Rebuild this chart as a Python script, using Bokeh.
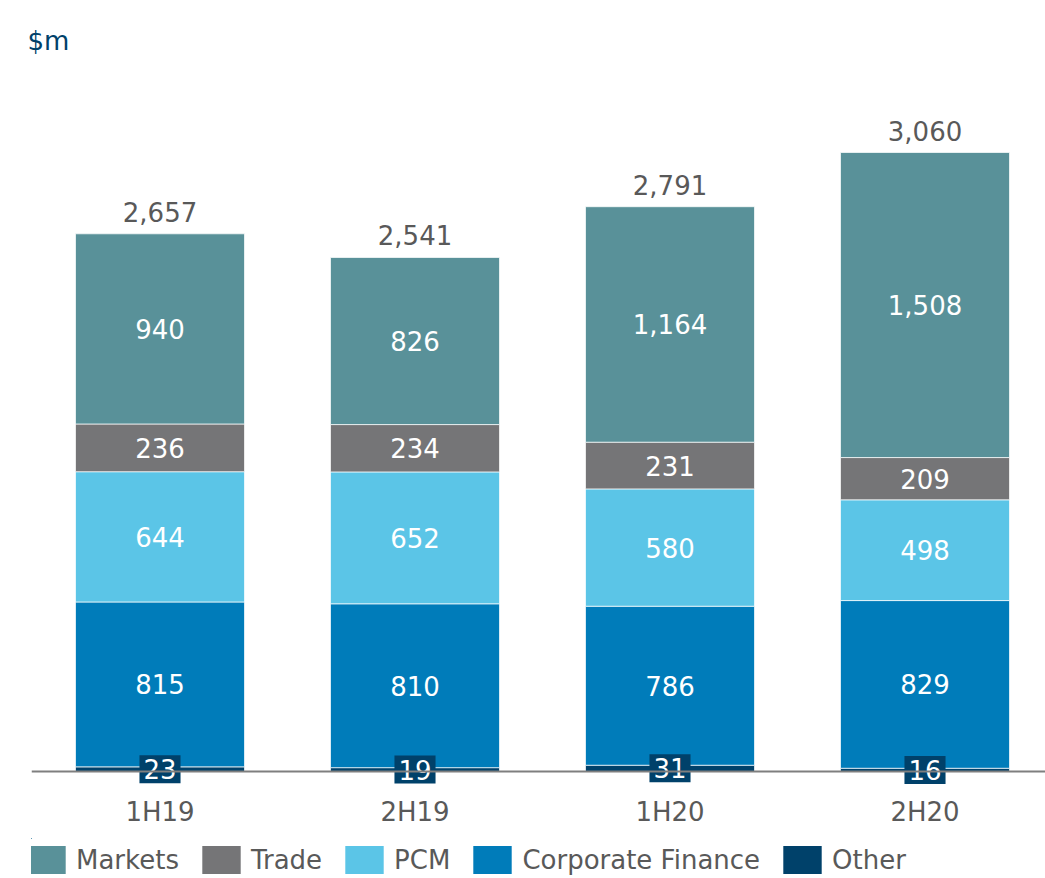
from bokeh.plotting import figure
from bokeh.models import ColumnDataSource, Range1d, Span, Legend, LegendItem, FixedTicker
from bokeh.layouts import column
from bokeh.core.properties import value
from bokeh.embed import file_html
from bokeh.resources import INLINE

periods = ["1H19", "2H19", "1H20", "2H20"]
other = [23, 19, 31, 16]
corp_fin = [815, 810, 786, 829]
pcm = [644, 652, 580, 498]
trade = [236, 234, 231, 209]
markets = [940, 826, 1164, 1508]
totals = [2657, 2541, 2791, 3060]

series_names = ["Other", "Corporate Finance", "PCM", "Trade", "Markets"]
series_vals = [other, corp_fin, pcm, trade, markets]
colors = ["#00416A", "#007CBA", "#5BC5E7", "#757577", "#599199"]
legend_order = ["Markets", "Trade", "PCM", "Corporate Finance", "Other"]

FONT = "DejaVu Sans"
W, H = 1045, 878
LEG_H = 40
MAIN_H = H - LEG_H
L, T, F = 31, 60, 791
BASE = 771
x_pos = list(range(len(periods)))

src = {"x": x_pos}
for n, v in zip(series_names, series_vals):
    src[n] = v
source = ColumnDataSource(src)

x_start = (L - 159.5) / 255.0
x_end = (W - 159.5) / 255.0
scale = 619.0 / 3060.0
y_end = (BASE - T) / scale
y_start = -(F - BASE) / scale

p = figure(frame_width=W - L, frame_height=F - T, output_backend="svg", toolbar_location=None,
           x_range=Range1d(x_start, x_end), y_range=Range1d(y_start, y_end),
           min_border_left=L, min_border_right=0, min_border_top=T,
           min_border_bottom=MAIN_H - F)
p.outline_line_color = None
p.grid.visible = False
p.yaxis.visible = False
p.background_fill_color = "white"
p.border_fill_color = "white"

renderers = p.vbar_stack(series_names, x="x", width=169 / 255.0, source=source,
                         color=colors, line_color="white", line_width=1, line_alpha=0.7)

# baseline
p.add_layout(Span(location=0, dimension="width", line_color="#7F7F7F", line_width=2))

# segment labels
for i, (n, v) in enumerate(zip(series_names, series_vals)):
    bottoms = [sum(sv[k] for sv in series_vals[:i]) for k in range(len(periods))]
    mids = [b + val / 2.0 for b, val in zip(bottoms, v)]
    labels = [f"{val:,}" for val in v]
    ls = ColumnDataSource(dict(x=x_pos, y=mids, t=labels))
    if n == "Other":
        p.text(x="x", y="y", text="t", source=ls, text_font=value(FONT),
               text_font_size="26px", text_color="white", text_align="center",
               text_baseline="middle", background_fill_color="#00416A", padding=4)
    else:
        p.text(x="x", y="y", text="t", source=ls, text_font=value(FONT),
               text_font_size="26px", text_color="white", text_align="center",
               text_baseline="middle")

# totals
ts = ColumnDataSource(dict(x=x_pos, y=totals, t=[f"{v:,}" for v in totals]))
p.text(x="x", y="y", text="t", source=ts, text_font=value(FONT), text_font_size="26px",
       text_color="#595959", text_align="center", text_baseline="alphabetic", y_offset=-22)

# x axis
ax = p.xaxis[0]
ax.ticker = FixedTicker(ticks=x_pos)
ax.major_label_overrides = {i: c for i, c in enumerate(periods)}
ax.axis_line_color = None
ax.major_tick_line_color = None
ax.minor_tick_line_color = None
ax.major_tick_out = 0
ax.major_label_standoff = 5
ax.major_label_text_font = FONT
ax.major_label_text_font_size = "26px"
ax.major_label_text_color = "#595959"

# title
p.title.text = "$m"
p.title.text_font = FONT
p.title.text_font_size = "26px"
p.title.text_font_style = "normal"
p.title.text_color = "#00416A"
p.title.align = "left"
p.title.offset = -4

# legend strip (separate figure so the legend is not clipped); its bars sit outside its view
p2 = figure(width=W, height=LEG_H, output_backend="svg", toolbar_location=None,
            x_axis_type=None, y_axis_type=None,
            x_range=Range1d(100, 101), y_range=Range1d(-20, -10),
            min_border_left=0, min_border_right=0, min_border_top=0, min_border_bottom=0)
p2.outline_line_color = None
p2.grid.visible = False
p2.border_fill_color = "white"
leg_r = {}
for n in legend_order:
    c = colors[series_names.index(n)]
    leg_r[n] = p2.vbar(x="x", top=n, width=169 / 255.0, source=source, fill_color=c,
                       line_color=None)
items = [LegendItem(label=n, renderers=[leg_r[n]]) for n in legend_order]
legend = Legend(items=items, orientation="horizontal", location=(-9, 1),
                glyph_width=48, glyph_height=35, label_standoff=6, spacing=18,
                label_text_font=FONT, label_text_font_size="26px",
                label_text_color="#595959", border_line_color=None,
                background_fill_alpha=0, margin=0, padding=0)
p2.add_layout(legend, "center")

layout = column(p, p2, spacing=0)
open("out.html", "w").write(file_html(layout, INLINE))
